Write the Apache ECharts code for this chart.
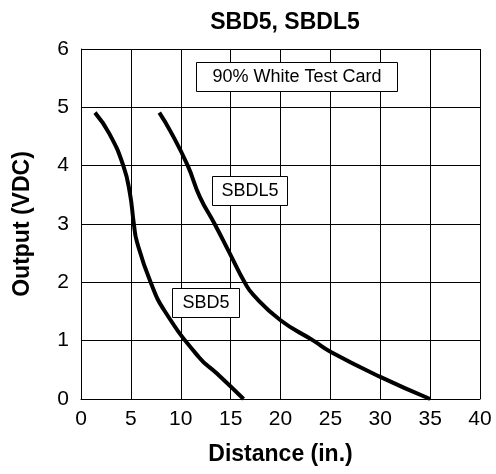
<!DOCTYPE html>
<html>
<head>
<meta charset="utf-8">
<script src="https://cdn.jsdelivr.net/npm/echarts@6/dist/echarts.min.js"></script>
<style>
  html, body {margin: 0; padding: 0; background: #fff;}
  #chart {width: 496px; height: 474px;}
</style>
</head>
<body>
<div id="chart"></div>
<script>
// SBD5 curve points [distance, output]
const sbd5 = [
  [1.4, 4.91], [2.84, 4.55], [4.24, 4.0], [4.9, 3.53], [5.3, 3.0],
  [5.6, 2.7], [6.98, 2.0], [8.42, 1.5], [11.8, 0.72], [13.6, 0.44],
  [16.3, 0.0]
]
// SBDL5 curve points [distance, output]
const sbdl5 = [
  [7.85, 4.91], [9.0, 4.58], [10.7, 4.0], [11.9, 3.47], [13.4, 3.0],
  [14.9, 2.5], [16.4, 2.0], [17.3, 1.78], [20.0, 1.35], [23.3, 1.0],
  [25.0, 0.81], [30.0, 0.38], [35.0, 0.0]
]

const chart = echarts.init(document.getElementById('chart'))

const font = 'Liberation Sans, Arial, sans-serif'

chart.setOption({
  animation: false,
  title: {
    text: 'SBD5, SBDL5',
    left: 280,
    top: 6,
    textAlign: 'center',
    textStyle: {fontFamily: font, fontSize: 23, fontWeight: 'bold', color: '#000'}
  },
  grid: {left: 81, right: 16, top: 49, bottom: 75},
  xAxis: {
    type: 'value',
    min: 0,
    max: 40,
    interval: 5,
    name: 'Distance (in.)',
    nameLocation: 'middle',
    nameGap: 44,
    nameTextStyle: {fontFamily: font, fontSize: 23, fontWeight: 'bold', color: '#000'},
    axisLine: {lineStyle: {color: '#000', width: 1}},
    axisTick: {show: false},
    axisLabel: {fontFamily: font, fontSize: 21, color: '#000', margin: 10},
    splitLine: {show: true, lineStyle: {color: '#000', width: 1}}
  },
  yAxis: {
    type: 'value',
    min: 0,
    max: 6,
    interval: 1,
    name: 'Output (VDC)',
    nameLocation: 'middle',
    nameGap: 47,
    nameTextStyle: {fontFamily: font, fontSize: 23, fontWeight: 'bold', color: '#000'},
    axisLine: {show: true, lineStyle: {color: '#000', width: 1}},
    axisTick: {show: false},
    axisLabel: {fontFamily: font, fontSize: 21, color: '#000', margin: 12},
    splitLine: {show: true, lineStyle: {color: '#000', width: 1}}
  },
  series: [
    {
      name: 'SBD5',
      type: 'line',
      data: sbd5,
      smooth: 0.5,
      smoothConstraint: false,
      showSymbol: false,
      lineStyle: {color: '#000', width: 4}
    },
    {
      name: 'SBDL5',
      type: 'line',
      data: sbdl5,
      smooth: 0.5,
      smoothConstraint: false,
      showSymbol: false,
      lineStyle: {color: '#000', width: 4}
    }
  ],
  graphic: [
    // annotation boxes
    {
      type: 'rect',
      shape: {x: 196.5, y: 62.5, width: 201, height: 29},
      style: {fill: '#fff', stroke: '#000', lineWidth: 1},
      z: 100
    },
    {
      type: 'text',
      x: 297, y: 77,
      style: {text: '90% White Test Card', fontFamily: font, fontSize: 18, fill: '#000', align: 'center', verticalAlign: 'middle'},
      z: 101
    },
    {
      type: 'rect',
      shape: {x: 212.5, y: 176.5, width: 75, height: 29},
      style: {fill: '#fff', stroke: '#000', lineWidth: 1},
      z: 100
    },
    {
      type: 'text',
      x: 250, y: 191,
      style: {text: 'SBDL5', fontFamily: font, fontSize: 18, fill: '#000', align: 'center', verticalAlign: 'middle'},
      z: 101
    },
    {
      type: 'rect',
      shape: {x: 172.5, y: 288.5, width: 67, height: 29},
      style: {fill: '#fff', stroke: '#000', lineWidth: 1},
      z: 100
    },
    {
      type: 'text',
      x: 206, y: 303,
      style: {text: 'SBD5', fontFamily: font, fontSize: 18, fill: '#000', align: 'center', verticalAlign: 'middle'},
      z: 101
    }
  ]
})
</script>
</body>
</html>
